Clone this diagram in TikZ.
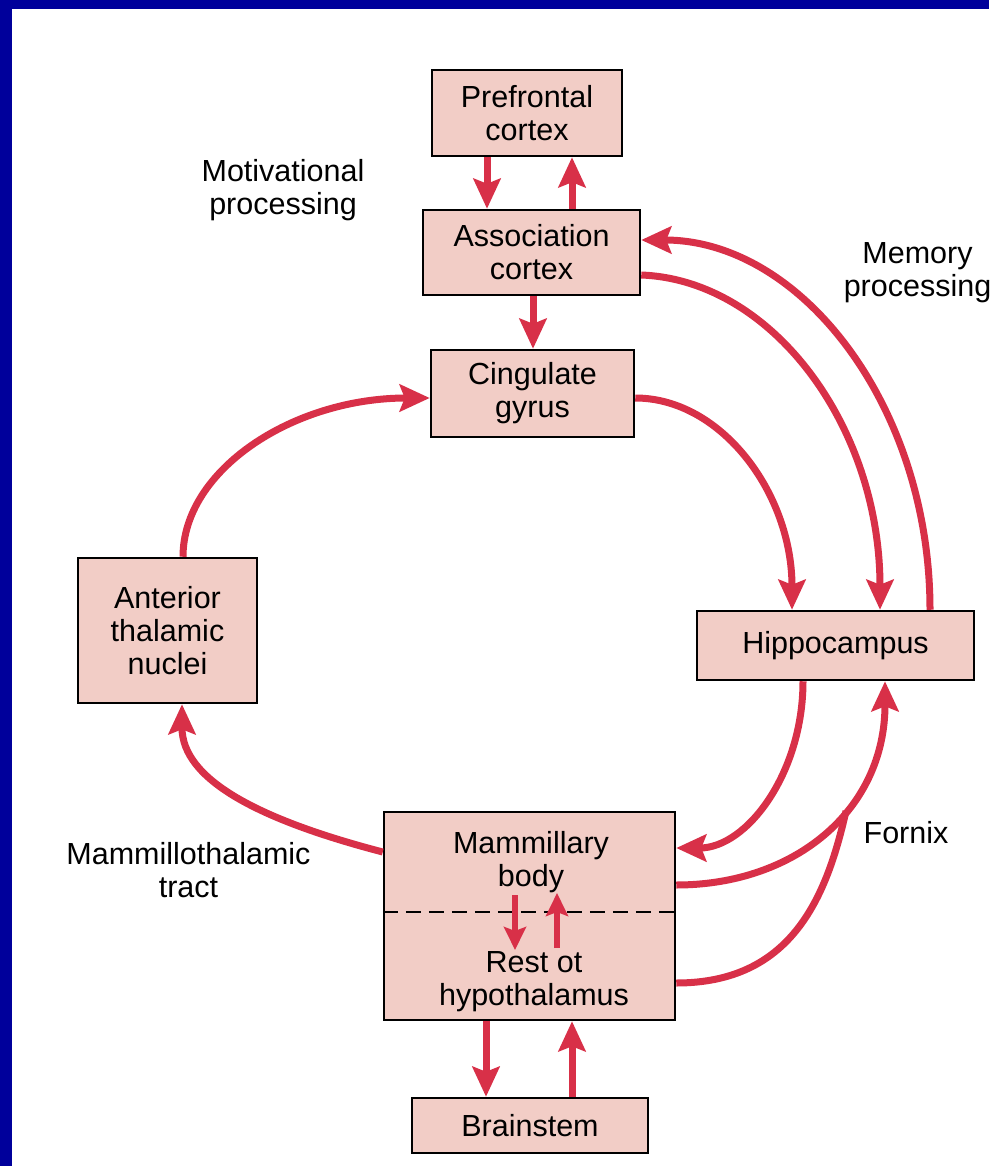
\documentclass[tikz,border=0pt]{standalone}
\usepackage{fontspec}
\setmainfont{Liberation Sans}
\usetikzlibrary{arrows.meta}
\definecolor{arrowred}{RGB}{216,48,72}
\definecolor{boxfill}{RGB}{242,205,198}
\definecolor{frameblue}{RGB}{0,0,155}
\begin{document}
\begin{tikzpicture}[x=1pt,y=-1pt,
  box/.style={draw=black, line width=2.5pt, fill=boxfill, inner sep=0pt, align=center,
              font=\fontsize{30.5}{33}\selectfont},
  lbl/.style={align=center, inner sep=0pt, font=\fontsize{30.5}{33}\selectfont},
  conn/.style={draw=arrowred, line width=7pt, -{Stealth[length=30pt,width=27pt,inset=5pt]}},
  smallconn/.style={draw=arrowred, line width=6.5pt, -{Stealth[length=23pt,width=22pt,inset=4pt]}},
  plain/.style={draw=arrowred, line width=7pt},
]
\useasboundingbox (0,0) rectangle (989,1166);
\clip (0,0) rectangle (989,1166);
\fill[white] (0,0) rectangle (989,1166);
\fill[frameblue] (0,0) rectangle (12,1166);
\fill[frameblue] (0,0) rectangle (989,9);

% boxes
\node[box, minimum width=190pt, minimum height=86pt] (pf) at (527,113) {Prefrontal\\cortex};
\node[box, minimum width=217pt, minimum height=85pt] (ac) at (531.5,252.5) {Association\\cortex};
\node[box, minimum width=203pt, minimum height=87pt] (cg) at (532.5,393.5) {Cingulate\\gyrus};
\node[box, minimum width=179pt, minimum height=145pt] (at) at (167.5,630.5) {Anterior\\thalamic\\nuclei};
\node[box, minimum width=277pt, minimum height=69pt] (hc) at (835.5,645.5) {Hippocampus};
\node[box, minimum width=291pt, minimum height=208pt] (mb) at (529.5,916) {};
\node[box, minimum width=236pt, minimum height=55pt] (bs) at (530,1125.5) {Brainstem};

\draw[black, line width=2pt, dash pattern=on 15pt off 8pt] (mb.west |- 0,912) -- (mb.east |- 0,912);
\node[lbl] (mbtop) at (531,862) {Mammillary\\body};
\node[lbl] (mbrest) at (534,982) {Rest ot\\hypothalamus};

% labels
\node[lbl] (motiv) at (283,190) {Motivational\\processing};
\node[lbl] (memory) at (917.5,273) {Memory\\processing};
\node[lbl] (mtt) at (188.5,870) {Mammillothalamic\\tract};
\node[lbl] (fornix) at (906,833) {Fornix};

% straight connectors
\draw[conn] (487,0 |- pf.south) -- (487,0 |- ac.north);
\draw[conn] (572,0 |- ac.north) -- (572,0 |- pf.south);
\draw[conn] (533,0 |- ac.south) -- (533,0 |- cg.north);
\draw[conn] (486,0 |- mb.south) -- (486,0 |- bs.north);
\draw[conn] (572,0 |- bs.north) -- (572,0 |- mb.south);
\draw[smallconn] (515,895) -- (515,950);
\draw[smallconn] (557,948) -- (557,893);

% curved connectors
\draw[conn] (183,0 |- at.north) .. controls (183,470) and (293,398) .. (cg.west |- 0,398);
\draw[conn] (cg.east |- 0,398) .. controls (721,398) and (792,493) .. (792,0 |- hc.north);
\draw[conn] (ac.east |- 0,275) .. controls (772,280) and (880,426) .. (880,0 |- hc.north);
\draw[conn] (930,0 |- hc.north) .. controls (930,406) and (801,240) .. (ac.east |- 0,240);
\draw[conn] (803,0 |- hc.south) .. controls (803,773) and (747,848) .. (mb.east |- 0,848);
\draw[conn] (mb.east |- 0,885) .. controls (795,885) and (885,810) .. (885,0 |- hc.south);
\coordinate (fxjoin) at (846,811);
\draw[plain] (mb.east |- 0,983) .. controls (790,983) and (826,900) .. (fxjoin);
\draw[conn] (mb.west |- 0,852) .. controls (260,820) and (182,780) .. (182,0 |- at.south);
\end{tikzpicture}
\end{document}
